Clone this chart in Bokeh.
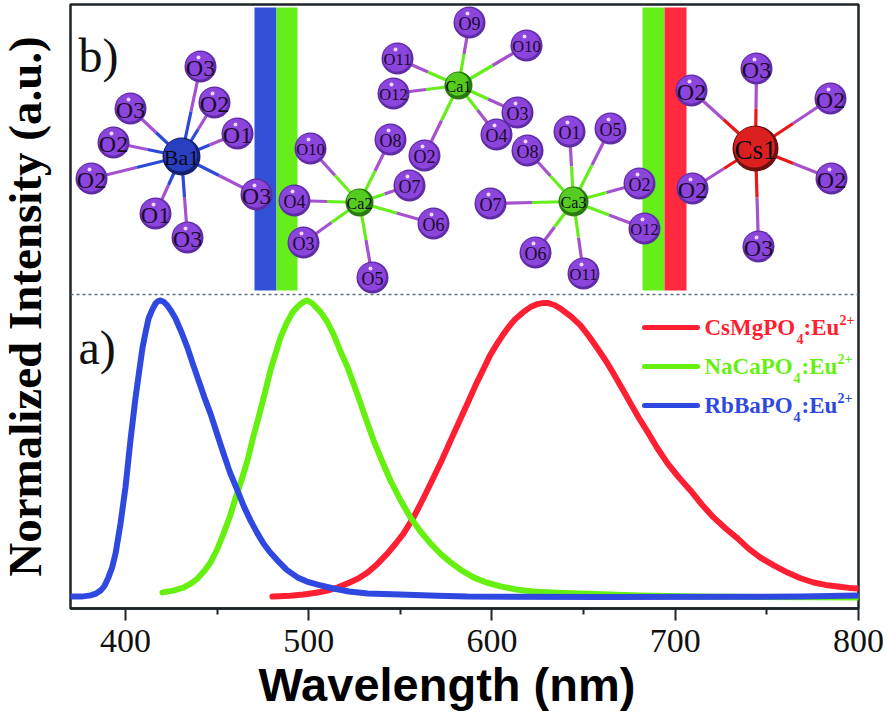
from bokeh.plotting import figure
from bokeh.embed import file_html
from bokeh.resources import INLINE
from bokeh.models import Range1d, FixedTicker, Title
from bokeh.core.properties import value

# Emission spectra: wavelength (nm), normalized intensity (%)
blue_wl = [370, 376, 380.9, 384, 386.4, 388.5, 390.7, 392.7, 394.6, 397.3, 400, 402.7, 405.5, 407.5, 409.3, 411,
           412.6, 414.5, 416.4, 417.8, 419.1, 421, 422.9, 425, 427.3, 430.5, 433.8, 436.8, 439.9, 443, 446.4, 450,
           453.5, 457, 461.1, 464.5, 468.2, 471.7, 475.3, 479, 483, 488, 493.9, 499, 504.8, 513.5, 522, 532.1, 550,
           570, 586.6, 659, 768.4, 800]
blue_i = [0.3, 0.3, 0.7, 1.3, 2.3, 3.8, 6.7, 10, 14.7, 24.7, 36.7, 52.3, 66.7, 75.5, 83.3, 88.5,
          93, 95.8, 98, 98.8, 99, 98.5, 97.3, 95.4, 93, 88.5, 83.3, 77.8, 72.3, 66.8, 61.3, 54.5,
          48, 41.7, 35.7, 30.5, 25.7, 21.7, 18, 15, 12.3, 9.2, 6.7, 5.3, 4.3, 3, 2, 1.3, 1,
          0.6, 0.3, 0.2, 0.3, 0.7]
green_wl = [420.2, 426, 431.7, 436, 439.3, 443, 446.4, 450, 453.5, 457, 460, 463.5, 466.6, 469.5, 472.6, 476, 479.1,
            482, 484.6, 488, 491.1, 494, 496.6, 498, 499.3, 502, 506.4, 510, 513.5, 517, 521.2, 524.8, 528.3, 531.8,
            535.4, 540, 544.6, 550, 555.5, 561, 566.5, 572, 577.4, 583.5, 589.9, 597, 604.7, 613, 622.7, 635, 648.3,
            680, 713.8, 800]
green_i = [1.7, 2.3, 3.3, 4.8, 6.3, 8.8, 11.7, 16, 21.3, 27, 33, 39.5, 45.7, 53, 60, 68, 75.7,
           81.5, 86.7, 91.5, 95, 97, 98.3, 98.8, 99, 98, 95.2, 92, 87.8, 82.5, 76.7, 70.7, 64.7, 58.5,
           52.3, 45.5, 39, 32.5, 26.7, 22, 18, 14.5, 11.7, 9, 6.7, 5, 3.7, 2.7, 2, 1.6, 1.3,
           0.7, 0.3, 0]
red_wl = [480.2, 490, 497.1, 504, 510.2, 516, 521.2, 527, 532.1, 537.5, 543, 547.5, 551.7, 557.2, 562.5, 568.1, 572.8,
          577.4, 582, 586.6, 591, 595.4, 599, 603, 605.8, 608.5, 612.5, 617.2, 621, 624.8, 628, 630.3, 634, 637.4,
          643, 648.3, 653, 657.6, 662, 666.3, 671, 675.6, 680, 684.9, 690, 695.8, 702, 708.3, 714.5, 720.9, 727.5,
          734, 740, 746.5, 754, 761.3, 768, 775.5, 782, 788.6, 795, 800]
red_i = [0.3, 0.6, 1, 1.6, 2.3, 3.4, 4.7, 6.3, 8.3, 11.2, 14.7, 18, 21.3, 26.7, 33, 40, 46,
         52.3, 58.5, 64.7, 70.7, 76.2, 80.8, 84.8, 87.4, 89.7, 92.7, 95.2, 96.8, 97.8, 98.2, 98.2, 97.5, 96.3,
         93.7, 90.7, 87, 83, 79, 74.7, 69.7, 64.7, 60, 55.2, 50, 44.7, 40, 35.7, 31, 26.7, 23,
         19.7, 16.3, 13.3, 10.6, 8.3, 6.5, 5, 4.2, 3.7, 3.2, 3]
x_ticks = [400, 500, 600, 700, 800]
x_minor = [450, 550, 650, 750]

# Legend
legend_names = ["CsMgPO", "NaCaPO", "RbBaPO"]
legend_colors = ["#ff1f33", "#66f010", "#2f48e0"]

# Structure panel (schematic positions in panel units)
ba = ("Ba1", 181, 156)
ba_o = [("O3", 200, 66), ("O2", 214, 102), ("O1", 237, 133), ("O3", 130, 108), ("O2", 113, 142),
        ("O2", 91, 178), ("O1", 155, 213), ("O3", 187, 237), ("O3", 256, 194)]
ca2 = ("Ca2", 359, 202)
ca2_o = [("O10", 310, 148), ("O8", 390, 139), ("O7", 409, 185), ("O6", 433, 223), ("O5", 372, 277),
         ("O3", 303, 242), ("O4", 294, 200)]
ca1 = ("Ca1", 458, 85)
ca1_o = [("O9", 469, 22), ("O10", 526, 45), ("O3", 517, 112), ("O4", 496, 134), ("O2", 424, 155),
         ("O11", 397, 58), ("O12", 393, 93)]
ca3 = ("Ca3", 573, 201)
ca3_o = [("O1", 569, 131), ("O5", 610, 128), ("O8", 527, 150), ("O7", 490, 203), ("O6", 535, 252),
         ("O11", 583, 273), ("O12", 644, 228), ("O2", 639, 183)]
cs = ("Cs1", 755, 148)
cs_o = [("O3", 756, 68), ("O2", 830, 98), ("O2", 831, 178), ("O3", 758, 246), ("O2", 692, 188), ("O2", 691, 90)]

FL, FT, FW, FH = 70, 4, 788, 604
SHIFT = 11  # the y title panel is wider than the left gap; the figure is drawn further left to compensate
p = figure(width=886 + SHIFT, height=716, output_backend="svg", toolbar_location=None,
           x_range=Range1d(370, 800), y_range=Range1d(-3.667, 197.667),
           frame_width=FW, frame_height=FH, min_border_left=FL + SHIFT, min_border_top=FT,
           min_border_right=28, min_border_bottom=104, margin=(0, 0, 0, -SHIFT),
           background_fill_color="white", border_fill_color="white")
p.extra_x_ranges["px"] = Range1d(FL, FL + FW)
p.extra_y_ranges["py"] = Range1d(FT + FH, FT)
P = dict(x_range_name="px", y_range_name="py")

p.grid.visible = False
p.outline_line_color = "#1c2428"
p.outline_line_width = 2.5
ax = p.xaxis[0]
ax.ticker = FixedTicker(ticks=x_ticks, minor_ticks=x_minor)
ax.axis_line_color = "#1c2428"
ax.axis_line_width = 2.5
ax.major_tick_line_color = "#1c2428"
ax.minor_tick_line_color = "#1c2428"
ax.major_tick_line_width = 2
ax.minor_tick_line_width = 2
ax.major_tick_out = 12
ax.major_tick_in = 0
ax.minor_tick_out = 6
ax.minor_tick_in = 0
ax.major_label_text_font = "Liberation Serif"
ax.major_label_text_font_size = "34px"
ax.major_label_text_color = "#111111"
ax.major_label_standoff = 9

# axis titles
ay = p.yaxis[0]
ay.ticker = FixedTicker(ticks=[])
ay.axis_line_color = None
ay.major_tick_line_color = None
ay.minor_tick_line_color = None
ay.axis_label = "Normalized Intensity (a.u.)"
ay.axis_label_text_font = "Liberation Serif"
ay.axis_label_text_font_style = "bold"
ay.axis_label_text_font_size = "47px"
ay.axis_label_text_color = "#000000"
ay.axis_label_standoff = 20

p.add_layout(Title(text="Wavelength (nm)", align="left", offset=188, standoff=3,
                   text_font="Liberation Sans", text_font_style="bold", text_font_size="47px",
                   text_color="#000000"), "below")

# colour bars
for x0, x1, c in [(254, 276, "#3350d8"), (276, 297, "#66ee1a"), (642, 664, "#66ee1a"), (664, 686, "#ff2a40")]:
    p.quad(left=x0, right=x1, top=7, bottom=290, fill_color=c, line_color=None, **P)

# separator
p.line([FL, FL + FW], [294, 294], line_color="#5a7080", line_width=1.5, line_dash="3 3", **P)

# spectra
for wl, i, c in [(red_wl, red_i, legend_colors[0]), (green_wl, green_i, legend_colors[1]), (blue_wl, blue_i, legend_colors[2])]:
    p.line(wl, i, line_color=c, line_width=6, line_cap="round", line_join="round")


def atom_group(center, oxy, bond_col, dark, main, rm, fo, fm):
    name, mx, my = center
    for _, ox, oy in oxy:
        hx, hy = (mx + ox) / 2, (my + oy) / 2
        p.line([ox, hx], [oy, hy], line_color="#a552cc", line_width=3.2, **P)
        p.line([hx, mx], [hy, my], line_color=bond_col, line_width=3.2, **P)
    xs = [a[1] for a in oxy]
    ys = [a[2] for a in oxy]
    labels = [a[0] for a in oxy]
    p.scatter(xs, ys, size=32, fill_color="#5f2ca6", line_color=None, **P)
    p.scatter([x - 0.6 for x in xs], [y - 0.8 for y in ys], size=28, fill_color="#8b44dc", line_color=None, **P)
    p.scatter([x - 2 for x in xs], [y - 9 for y in ys], size=4, fill_color="#f0d8f4", line_color=None, **P)
    p.scatter([mx], [my], size=2 * rm, fill_color=dark, line_color=None, **P)
    p.scatter([mx - 1], [my - 1.5], size=2 * rm - 5, fill_color=main, line_color=None, **P)
    for lab, x, y in zip(labels, xs, ys):
        size = fo if len(lab) == 2 else fo - 1.5
        p.text([x], [y + 1], text=[lab], text_font=value("Liberation Serif"), text_font_size=f"{size}px",
               text_align="center", text_baseline="middle", text_color="#1a0a2a", **P)
    p.text([mx], [my + 1], text=[name], text_font=value("Liberation Serif"), text_font_size=f"{fm}px",
           text_align="center", text_baseline="middle", text_color="#0a0a1a", **P)


atom_group(ba, ba_o, "#2c4ad8", "#152270", "#2a3fc0", 19, 24, 22)
atom_group(ca2, ca2_o, "#66ee1a", "#2a7a10", "#55cc20", 14, 18, 16)
atom_group(ca1, ca1_o, "#66ee1a", "#2a7a10", "#55cc20", 14, 18, 16)
atom_group(ca3, ca3_o, "#66ee1a", "#2a7a10", "#55cc20", 15, 18, 16)
atom_group(cs, cs_o, "#e81818", "#6e0f10", "#dc2020", 23, 24, 27)

# panel letters
for t, x, y in [("b)", 78, 55), ("a)", 78, 347)]:
    p.text([x], [y], text=[t], text_font=value("Liberation Serif"), text_font_size="48px",
           text_baseline="middle", text_color="#111111", **P)

# legend
for name, col, ly, x_sub, x_rest, x_sup in zip(legend_names, legend_colors, [327, 366, 405],
                                               [796, 793, 793], [803, 801, 801], [839, 837, 837]):
    p.line([644, 697], [ly, ly], line_color=col, line_width=5, line_cap="round", **P)
    kw = dict(text_font=value("Liberation Serif"), text_font_style="bold", text_color=col,
              text_baseline="middle", **P)
    p.text([704], [ly], text=[name], text_font_size="23px", **kw)
    p.text([x_sub], [ly + 11], text=["4"], text_font_size="14px", **kw)
    p.text([x_rest], [ly], text=[":Eu"], text_font_size="23px", **kw)
    p.text([x_sup], [ly - 8], text=["2+"], text_font_size="14px", **kw)

open("out.html", "w").write(file_html(p, INLINE))
